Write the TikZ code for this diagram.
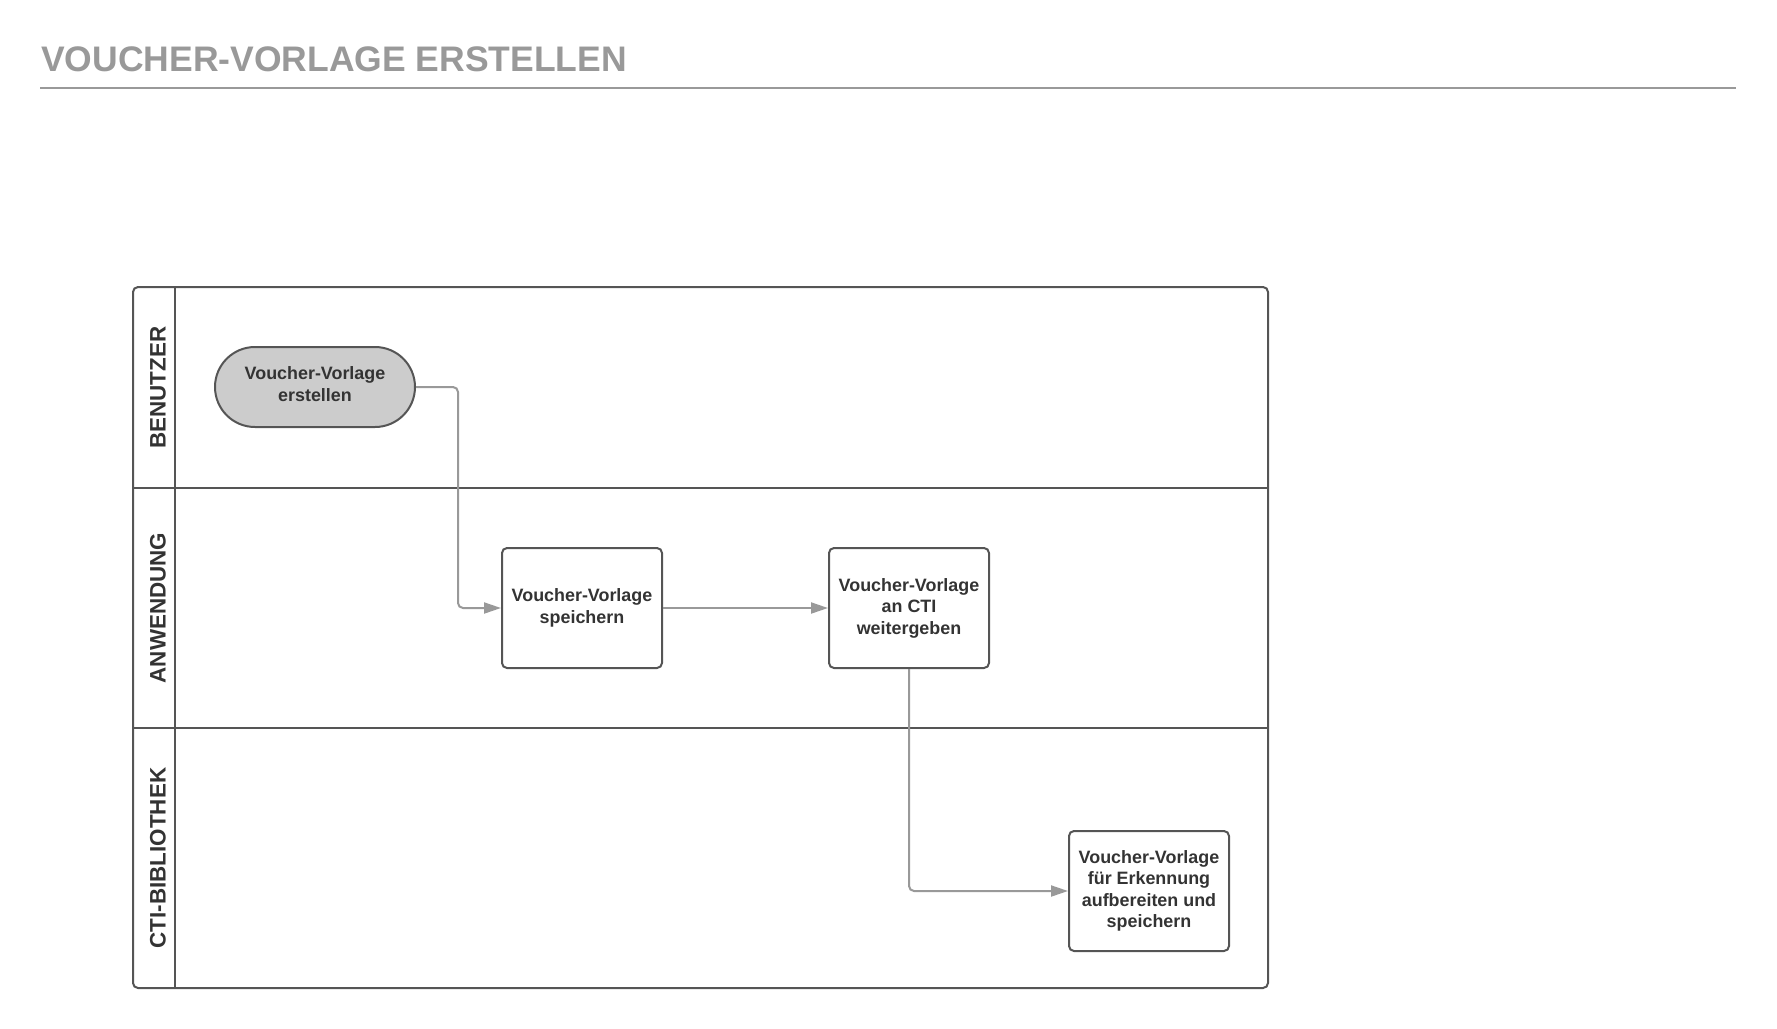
\documentclass[tikz,border=0pt]{standalone}
\usepackage{fontspec}
\setmainfont{Liberation Sans}
\usetikzlibrary{arrows.meta,shapes.misc}
\definecolor{titlegray}{HTML}{999999}
\definecolor{linegray}{HTML}{555555}
\definecolor{conngray}{HTML}{999999}
\definecolor{fillgray}{HTML}{CCCCCC}
\definecolor{textdark}{HTML}{333333}
\begin{document}
\begin{tikzpicture}[x=1pt,y=-1pt,
  poolline/.style={draw=linegray, line width=2pt},
  boxtext/.style={align=center, font=\bfseries\fontsize{17.9}{21.5}\selectfont, text=textdark, inner sep=0pt},
  stepbox/.style={boxtext, draw=linegray, line width=2pt, rounded corners=5pt, minimum width=160pt, minimum height=120pt},
  startnode/.style={rounded rectangle, draw=linegray, line width=2pt, fill=fillgray, minimum width=200pt, minimum height=80pt, inner sep=0pt},
  lanelabel/.style={rotate=90, font=\bfseries\fontsize{22.4}{26}\selectfont, text=textdark, inner sep=0pt},
  conn/.style={draw=conngray, line width=2pt, rounded corners=5pt, -{Triangle[length=17pt,width=11pt]}},
]
\useasboundingbox (0,0) rectangle (1777,1028);
% title
\node[anchor=base west, inner sep=0pt, font=\bfseries\fontsize{35.5}{40}\selectfont, text=titlegray] (title) at (41,71) {VOUCHER-VORLAGE ERSTELLEN};
\draw[draw=titlegray, line width=2pt] (40,87.5) -- (1736,87.5);
% pool
\draw[poolline, rounded corners=5pt] (133,287) rectangle (1268,988);
\draw[poolline] (175,287) -- (175,988);
\draw[poolline] (133,488) -- (1268,488);
\draw[poolline] (133,728) -- (1268,728);
\node[lanelabel] (l1) at (158,387.5) {BENUTZER};
\node[lanelabel] (l2) at (158,608) {ANWENDUNG};
\node[lanelabel] (l3) at (158,858) {CTI-BIBLIOTHEK};
% nodes
\node[startnode, label={[boxtext, yshift=3pt]center:Voucher-Vorlage\\erstellen}] (start) at (315,387) {};
\node[stepbox] (b1) at (582,608) {Voucher-Vorlage\\speichern};
\node[stepbox] (b2) at (909,608) {Voucher-Vorlage\\an CTI\\weitergeben};
\node[stepbox] (b3) at (1149,891) {Voucher-Vorlage\\für Erkennung\\aufbereiten und\\speichern};
% connectors
\draw[conn] (start.east) -- (458,387) |- (b1.west);
\draw[conn] (b1.east) -- (b2.west);
\draw[conn] (b2.south) |- (b3.west);
\end{tikzpicture}
\end{document}
